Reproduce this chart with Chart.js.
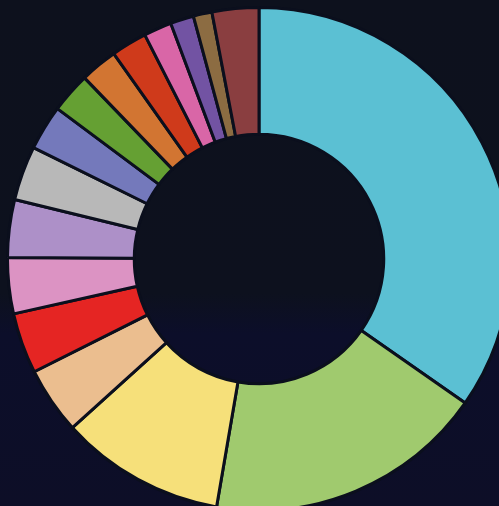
<!DOCTYPE html>
<html>
<head>
<meta charset="utf-8">
<script src="https://cdn.jsdelivr.net/npm/chart.js@4/dist/chart.umd.min.js"></script>
<style>
  html, body {
    margin: 0;
    width: 499px;
    height: 506px;
    overflow: hidden;
    background: linear-gradient(180deg, #0d111d 0%, #0d111e 58%, #0c0e2a 66%, #0d0e27 100%);
  }
  #wrap {
    position: absolute;
    left: 5.5px;
    top: 5.5px;
    width: 506px;
    height: 506px;
  }
</style>
</head>
<body>
<div id="wrap"><canvas id="myCanvas"></canvas></div>
<script>
// slices, clockwise from 12 o'clock (share in %)
const categories = [
  "1", "2", "3", "4", "5", "6", "7", "8",
  "9", "10", "11", "12", "13", "14", "15", "16"
];
const values = [
  34.7, 18.0, 10.6, 4.3, 3.9, 3.6, 3.7, 3.5,
  2.9, 2.6, 2.4, 2.3, 1.8, 1.5, 1.2, 3.0
];
const colors = [
  "#5bc0d3", "#a0ca6e", "#f6e07a", "#ebbe8f", "#e52523", "#dc93c3", "#ad90c8", "#b8b8b8",
  "#7479bb", "#65a033", "#d27532", "#cf3a1b", "#d966a7", "#7253a3", "#8c6c42", "#8a3e40"
];

const ctx = document.getElementById("myCanvas").getContext("2d");

new Chart(ctx, {
  type: "doughnut",
  data: {
    labels: categories,
    datasets: [
      {
        data: values,
        backgroundColor: colors,
        borderColor: "#0b0f1d",
        borderWidth: 3,
        hoverOffset: 0,
      },
    ],
  },
  options: {
    responsive: true,
    maintainAspectRatio: false,
    animation: false,
    cutout: "49.6%",
    layout: { padding: 0 },
    plugins: {
      legend: { display: false },
      tooltip: { enabled: false },
    },
  },
});
</script>
</body>
</html>
